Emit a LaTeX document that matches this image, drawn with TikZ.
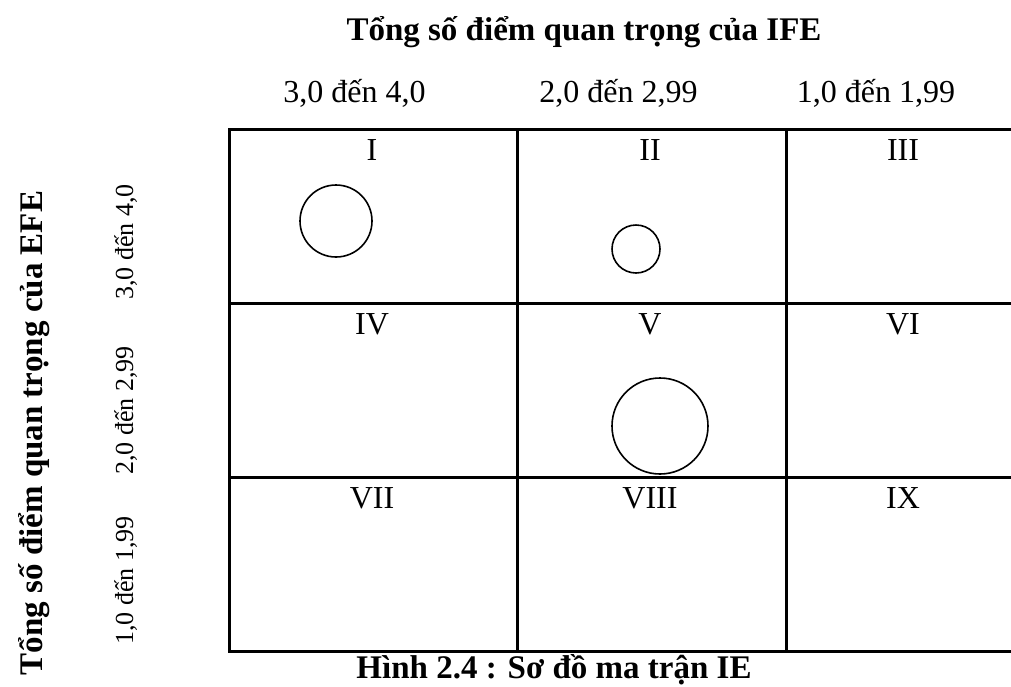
\documentclass[tikz,border=0pt]{standalone}
\usepackage{fontspec}
\setmainfont{Liberation Serif}
\begin{document}
\begin{tikzpicture}[x=1pt,y=-1pt,
  cell/.style={draw, line width=3pt, rectangle, inner sep=0pt, anchor=north west, minimum height=174pt},
  roman/.style={font=\fontsize{32}{38}\selectfont, anchor=base, inner sep=0pt},
  head/.style={font=\fontsize{32}{38}\selectfont, anchor=base, inner sep=0pt},
  bighead/.style={font=\fontsize{33}{40}\selectfont\bfseries, anchor=base, inner sep=0pt},
  sidelab/.style={font=\fontsize{26}{31}\selectfont, rotate=90, anchor=base west, inner sep=0pt},
  dot/.style={draw, line width=1.6pt, circle, inner sep=0pt}]
\useasboundingbox (0,0) rectangle (1011,686);
\clip (0,0) rectangle (1011,686);
% titles
\node[bighead] (title) at (584,40) {Tổng số điểm quan trọng của IFE};
\node[bighead, rotate=90] (ltitle) at (42,433) {Tổng số điểm quan trọng của EFE};
% column headers
\node[head] (h1) at (354.5,102) {3,0 đến 4,0};
\node[head] (h2) at (618.5,102) {2,0 đến 2,99};
\node[head] (h3) at (876,102) {1,0 đến 1,99};
% row headers
\node[sidelab] (r1) at (133,300) {3,0 đến 4,0};
\node[sidelab] (r2) at (133,475) {2,0 đến 2,99};
\node[sidelab] (r3) at (133,645) {1,0 đến 1,99};
% cells
\node[cell, minimum width=288pt] (c1) at (227.5,128) {};
\node[cell, minimum width=269pt] (c2) at (515.5,128) {};
\node[cell, minimum width=240pt] (c3) at (784.5,128) {};
\node[cell, minimum width=288pt] (c4) at (227.5,302) {};
\node[cell, minimum width=269pt] (c5) at (515.5,302) {};
\node[cell, minimum width=240pt] (c6) at (784.5,302) {};
\node[cell, minimum width=288pt] (c7) at (227.5,476) {};
\node[cell, minimum width=269pt] (c8) at (515.5,476) {};
\node[cell, minimum width=240pt] (c9) at (784.5,476) {};
% cell labels
\node[roman] (l1) at (372,160) {I};
\node[roman] (l2) at (650,160) {II};
\node[roman] (l3) at (903,160) {III};
\node[roman] (l4) at (372,334) {IV};
\node[roman] (l5) at (650,334) {V};
\node[roman] (l6) at (903,334) {VI};
\node[roman] (l7) at (372,508) {VII};
\node[roman] (l8) at (650,508) {VIII};
\node[roman] (l9) at (903,508) {IX};
% circles
\node[dot, minimum size=72pt] (o1) at (336,221) {};
\node[dot, minimum size=48pt] (o2) at (636,249) {};
\node[dot, minimum size=96pt] (o5) at (660,426) {};
% caption
\node[font=\fontsize{33}{40}\selectfont\bfseries, anchor=base, inner sep=0pt] (cap) at (554,678) {Hình 2.4 : Sơ đồ ma trận IE};
\end{tikzpicture}
\end{document}
